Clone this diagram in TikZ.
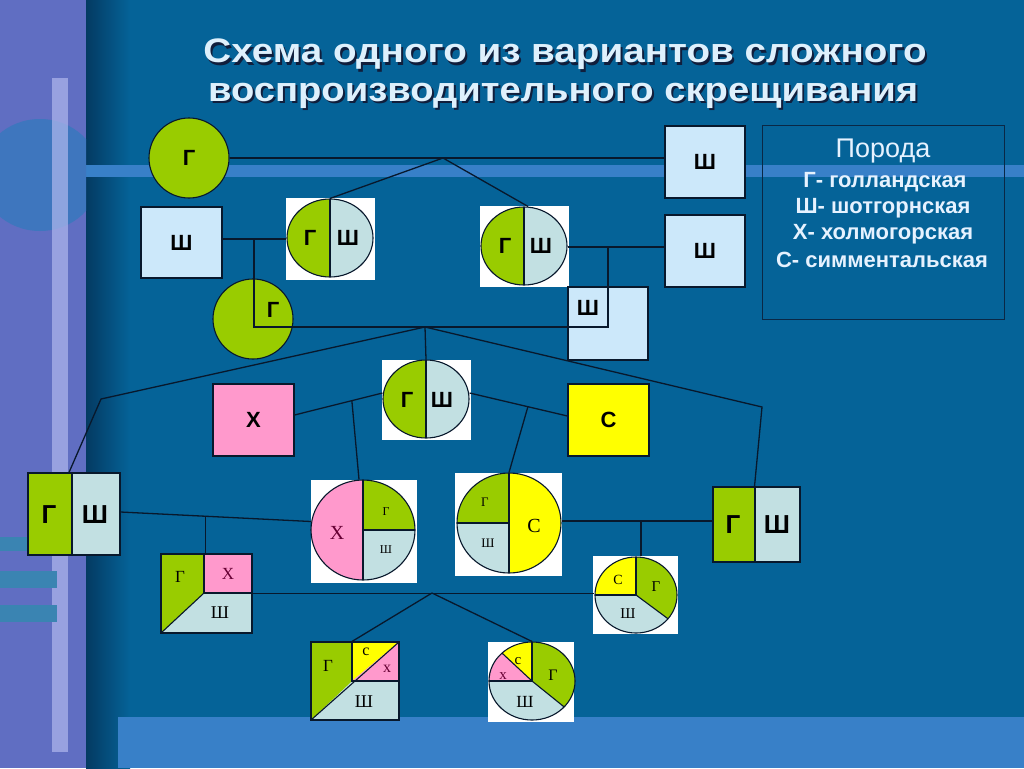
\documentclass[tikz,border=0pt]{standalone}
\usepackage{fontspec}
\setmainfont{Liberation Serif}
\newfontfamily\arial{Liberation Sans}
\usepackage{graphicx}
\usetikzlibrary{shapes.geometric}
\definecolor{bgmain}{RGB}{5,99,152}
\definecolor{bglight}{RGB}{56,128,200}
\definecolor{dk}{RGB}{4,58,98}
\definecolor{strip}{RGB}{96,110,194}
\definecolor{stripcirc}{RGB}{62,118,190}
\definecolor{stripbar}{RGB}{176,184,238}
\definecolor{stripteal}{RGB}{58,132,178}
\definecolor{gr}{RGB}{153,204,0}
\definecolor{sh}{RGB}{204,232,250}
\definecolor{shh}{RGB}{194,224,226}
\definecolor{pk}{RGB}{255,153,204}
\definecolor{ye}{RGB}{255,255,0}
\definecolor{ln}{RGB}{8,24,44}
\definecolor{ttl}{RGB}{222,240,252}
\definecolor{shd}{RGB}{16,30,60}
\definecolor{lgb}{RGB}{10,40,70}
\definecolor{lgt}{RGB}{230,242,255}
\definecolor{mar}{RGB}{102,0,51}
\begin{document}
\begin{tikzpicture}[x=1pt,y=-1pt,
  conn/.style={draw=ln, line width=1.3pt},
  outl/.style={draw=ln, line width=1.1pt},
  sans/.style={font=\arial\bfseries\fontsize{22}{22}\selectfont, text=black, inner sep=0pt},
  bsans/.style={font=\arial\bfseries\fontsize{26}{26}\selectfont, text=black, inner sep=0pt},
  ser/.style={font=\fontsize{#1}{#1}\selectfont, text=black, inner sep=0pt},
  sqbox/.style={rectangle, outl, inner sep=0pt, sans},
  rnd/.style={circle, outl, inner sep=0pt, sans, fill=gr, minimum size=80pt},
  wbox/.style={rectangle, fill=white, inner sep=0pt, draw=none},
  ell/.style={ellipse, outl, inner sep=0pt},
  halfel/.style={ell, fill=shh, minimum width=86pt, minimum height=78pt,
    path picture={\fill[gr] (path picture bounding box.north west) rectangle (path picture bounding box.south);
      \draw[outl] (path picture bounding box.north) -- (path picture bounding box.south);}},
  ttlf/.style={font=\arial\bfseries\fontsize{34}{34}\selectfont, inner sep=0pt, anchor=base},
  lgf/.style={font=\arial\bfseries\fontsize{22}{22}\selectfont, text=lgt, inner sep=0pt},
]
\useasboundingbox (0,0) rectangle (1024,768);
% background
\fill[bgmain] (0,0) rectangle (1024,768);
\shade[left color=dk, right color=bgmain] (86,0) rectangle (130,768);
\fill[bglight] (86,165) rectangle (1024,177);
\fill[bglight] (118,717) rectangle (1024,768);
% left strip
\fill[strip] (0,0) rectangle (86,768);
\begin{scope}
  \clip (0,0) rectangle (86,768);
  \fill[stripcirc] (40,175) ellipse [x radius=60, y radius=56];
\end{scope}
\fill[stripbar, opacity=0.7] (52,78) rectangle (68,752);
\fill[stripteal] (0,537) rectangle (30,551);
\fill[stripteal] (0,571) rectangle (57,588);
\fill[stripteal] (0,605) rectangle (57,622);
% title
\node[ttlf, text=shd] (t1s) at (567,65) {\resizebox{723pt}{\height}{Схема одного из вариантов сложного}};
\node[ttlf, text=ttl] (t1) at (565,63) {\resizebox{723pt}{\height}{Схема одного из вариантов сложного}};
\node[ttlf, text=shd] (t2s) at (565,103) {\resizebox{710pt}{\height}{воспроизводительного скрещивания}};
\node[ttlf, text=ttl] (t2) at (563,101) {\resizebox{710pt}{\height}{воспроизводительного скрещивания}};
% legend
\node[draw=lgb, line width=1pt, minimum width=242pt, minimum height=194pt, inner sep=0pt] (leg) at (883,222) {};
\node[font=\arial\fontsize{27}{27}\selectfont, text=lgt, inner sep=0pt] (lg0) at (883,151) {Порода};
\node[lgf] (lg1) at (885,182) {Г- голландская};
\node[lgf] (lg2) at (883,208) {Ш- шотгорнская};
\node[lgf] (lg3) at (883,234) {Х- холмогорская};
\node[lgf] (lg4) at (882,260) {С- симментальская};
% generation 1-2
\node[rnd] (G1) at (189,158) {Г};
\node[sqbox, fill=sh, minimum width=80pt, minimum height=72pt] (Sh1) at (705,162) {Ш};
\node[sqbox, fill=sh, minimum width=81pt, minimum height=71pt] (Sh2) at (181.5,242.5) {Ш};
\node[wbox, minimum width=89pt, minimum height=82pt] (GS1w) at (330.5,239) {};
\node[halfel] (GS1) at (330,238) {};
\node[sans] (GS1a) at (310,238) {Г};
\node[sans] (GS1b) at (348,238) {Ш};
\node[wbox, minimum width=89pt, minimum height=81pt] (GS2w) at (524.5,246.5) {};
\node[halfel] (GS2) at (524,246) {};
\node[sans] (GS2a) at (505,246) {Г};
\node[sans] (GS2b) at (541,246) {Ш};
\node[sqbox, fill=sh, minimum width=80pt, minimum height=72pt] (Sh3) at (705,251) {Ш};
\node[rnd] (G2) at (253,319) {};
\node[sans] (G2a) at (273,310) {Г};
\node[sqbox, fill=sh, minimum width=80pt, minimum height=73pt] (Sh4) at (608,323.5) {};
\node[sans] (Sh4a) at (588,308) {Ш};
% generation 3
\node[wbox, minimum width=89pt, minimum height=80pt] (GS3w) at (426.5,400) {};
\node[halfel] (GS3) at (426,399) {};
\node[sans] (GS3a) at (407,400) {Г};
\node[sans] (GS3b) at (442,400) {Ш};
\node[sqbox, fill=pk, minimum width=81pt, minimum height=72pt] (Xs) at (253.5,420) {Х};
\node[sqbox, fill=ye, minimum width=81pt, minimum height=72pt] (Cs) at (608.5,420) {С};
\node[sqbox, fill=shh, minimum width=92pt, minimum height=82pt,
  path picture={\fill[gr] (-46,-41) rectangle (-2,41); \draw[outl] (-2,-41) -- (-2,41);}] (GSbL) at (74,514) {};
\node[bsans] (GSbLa) at (49,515) {Г};
\node[bsans] (GSbLb) at (95,515) {Ш};
\node[sqbox, fill=shh, minimum width=87pt, minimum height=75pt,
  path picture={\fill[gr] (-43.5,-37.5) rectangle (-1.5,37.5); \draw[outl] (-1.5,-37.5) -- (-1.5,37.5);}] (GSbR) at (756.5,524.5) {};
\node[bsans] (GSbRa) at (733,525) {Г};
\node[bsans] (GSbRb) at (777,525) {Ш};
% X circle
\node[wbox, minimum width=106pt, minimum height=103pt] (XCw) at (364,531.5) {};
\node[ell, fill=shh, minimum width=104pt, minimum height=100pt,
  path picture={\fill[pk] (path picture bounding box.north west) rectangle (path picture bounding box.south);
    \fill[gr] (path picture bounding box.center) rectangle (path picture bounding box.north east);
    \draw[outl] (path picture bounding box.north) -- (path picture bounding box.south);
    \draw[outl] (path picture bounding box.center) -- (path picture bounding box.east);}] (XC) at (363,530) {};
\node[ser=20, text=mar] (XCa) at (337,533) {Х};
\node[ser=12] (XCb) at (386,512) {Г};
\node[ser=12] (XCc) at (386,550) {Ш};
% C circle
\node[wbox, minimum width=107pt, minimum height=103pt] (CCw) at (508.5,524.5) {};
\node[ell, fill=shh, minimum width=104pt, minimum height=100pt,
  path picture={\fill[ye] (path picture bounding box.north) rectangle (path picture bounding box.south east);
    \fill[gr] (path picture bounding box.center) rectangle (path picture bounding box.north west);
    \draw[outl] (path picture bounding box.north) -- (path picture bounding box.south);
    \draw[outl] (path picture bounding box.center) -- (path picture bounding box.west);}] (CC) at (509,523) {};
\node[ser=20] (CCa) at (534,526) {С};
\node[ser=13] (CCb) at (485,502) {Г};
\node[ser=13] (CCc) at (488,543) {Ш};
% generation 4
\node[rectangle, outl, fill=shh, minimum width=91pt, minimum height=79pt, inner sep=0pt,
  path picture={\fill[gr] (-45.5,-39.5) -- (-2.5,-39.5) -- (-2.5,-0.5) -- (-45.5,39.5) -- cycle;
    \fill[pk] (-2.5,-39.5) rectangle (45.5,-0.5);
    \draw[outl] (-2.5,-39.5) -- (-2.5,-0.5) -- (45.5,-0.5);
    \draw[outl] (-2.5,-0.5) -- (-45.5,39.5);}] (GXS) at (206.5,593.5) {};
\node[ser=17] (GXSa) at (180,577) {Г};
\node[ser=17, text=mar] (GXSb) at (228,574) {Х};
\node[ser=18] (GXSc) at (220,613) {Ш};
\node[wbox, minimum width=85pt, minimum height=78pt] (SCGw) at (635.5,595) {};
\node[ell, fill=shh, minimum width=82pt, minimum height=76pt,
  path picture={\fill[ye] (path picture bounding box.center) rectangle (path picture bounding box.north west);
    \fill[gr] (path picture bounding box.center) -- ++(0,-60) -- ++(80,0) -- ++(0,119.35) -- cycle;
    \draw[outl] (path picture bounding box.center) -- (path picture bounding box.north);
    \draw[outl] (path picture bounding box.center) -- (path picture bounding box.west);
    \draw[outl] (path picture bounding box.center) -- ++(62,46);}] (SCG) at (636,595) {};
\node[ser=14] (SCGa) at (618,580) {С};
\node[ser=15] (SCGb) at (656,587) {Г};
\node[ser=15] (SCGc) at (628,614) {Ш};
% generation 5
\node[rectangle, outl, fill=shh, minimum width=88pt, minimum height=78pt, inner sep=0pt,
  path picture={\fill[gr] (-44,-39) -- (-3,-39) -- (-3,0) -- (-44,39) -- cycle;
    \fill[ye] (-3,-39) -- (44,-39) -- (-3,0) -- cycle;
    \fill[pk] (44,-39) -- (44,0) -- (-3,0) -- cycle;
    \draw[outl] (-3,-39) -- (-3,0) -- (44,0);
    \draw[outl] (44,-39) -- (-44,39);}] (BSq) at (355,681) {};
\node[ser=17] (BSqa) at (328,666) {Г};
\node[ser=16] (BSqb) at (366,652) {с};
\node[ser=16, text=mar] (BSqc) at (387,669) {х};
\node[ser=18] (BSqd) at (364,702) {Ш};
\node[wbox, minimum width=86pt, minimum height=80pt] (BCw) at (531,682) {};
\node[ell, fill=shh, minimum width=86pt, minimum height=78pt,
  path picture={\fill[ye] (path picture bounding box.center) rectangle (path picture bounding box.north west);
    \fill[pk] (path picture bounding box.center) -- ++(-80,0) -- ++(0,-74.5) -- cycle;
    \fill[gr] (path picture bounding box.center) -- ++(0,-60) -- ++(80,0) -- ++(0,124.5) -- cycle;
    \draw[outl] (path picture bounding box.center) -- (path picture bounding box.north);
    \draw[outl] (path picture bounding box.center) -- (path picture bounding box.west);
    \draw[outl] (path picture bounding box.center) -- ++(-58,-54);
    \draw[outl] (path picture bounding box.center) -- ++(62,50);}] (BC) at (532,681) {};
\node[ser=15] (BCa) at (518,661) {с};
\node[ser=15, text=mar] (BCb) at (503,676) {х};
\node[ser=16] (BCc) at (553,675) {Г};
\node[ser=17] (BCd) at (525,702) {Ш};
% connectors
\coordinate (J1) at (443,158);
\draw[conn] (G1.east) -- (G1.east -| Sh1.west);
\draw[conn] (J1) -- (GS1.north);
\draw[conn] (J1) -- ([xshift=4pt]GS2.north);
\coordinate (J2) at (254,239);
\draw[conn] (Sh2.east |- J2) -- (J2 -| GS1.west);
\coordinate (K1) at (254,327);
\coordinate (K2) at (608,327);
\coordinate (J4) at (608,247);
\draw[conn] (J2) -- (K1) -- (K2) -- (J4);
\draw[conn] (GS2.east |- J4) -- (J4 -| Sh3.west);
\coordinate (J3) at (425,327);
\coordinate (L1) at (101,399);
\coordinate (R1) at (762,407);
\draw[conn] (J3) -- (GS3.north);
\draw[conn] (J3) -- (L1) -- ([xshift=-5pt]GSbL.north);
\draw[conn] (J3) -- (R1) -- ([xshift=-2pt]GSbR.north);
\draw[conn] ([yshift=5pt]Xs.east) -- coordinate[pos=0.652] (J5) ([yshift=6pt]GS3.west);
\draw[conn] (J5) -- ([xshift=-4pt]XC.north);
\draw[conn] ([yshift=6pt]GS3.east) -- coordinate[pos=0.596] (J6) ([yshift=4pt]Cs.west);
\draw[conn] (J6) -- (CC.north);
\draw[conn] ([yshift=2pt]GSbL.east) -- coordinate[pos=0.445] (J7) ([yshift=10pt]XCw.west);
\draw[conn] (J7) -- (J7 |- GXS.north);
\coordinate (J8) at (641,521);
\draw[conn] ([yshift=2pt]CC.east) -- ([yshift=2pt]CC.east -| GSbR.west);
\draw[conn] (J8) -- (J8 |- SCG.north);
\coordinate (J9) at (432,593);
\draw[conn] (GXS.east) -- (GXS.east -| SCG.west);
\draw[conn] (J9) -- ([xshift=-3pt]BSq.north);
\draw[conn] (J9) -- (BC.north);
\end{tikzpicture}
\end{document}
